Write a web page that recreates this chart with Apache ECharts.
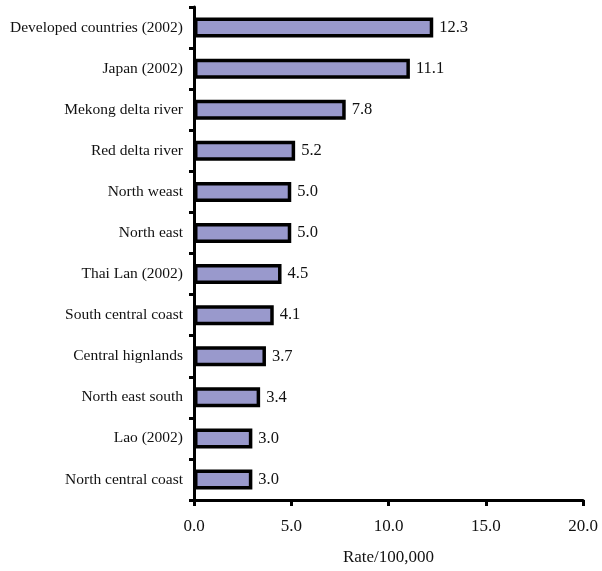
<!DOCTYPE html>
<html>
<head>
<meta charset="utf-8">
<script src="https://cdn.jsdelivr.net/npm/echarts@6/dist/echarts.min.js"></script>
<style>
  html, body { margin: 0; padding: 0; background: #fff; }
  #chart { width: 602px; height: 571px; }
</style>
</head>
<body>
<div id="chart"></div>
<script>
// Regions and reference groups, top to bottom
const regions = [
  'Developed countries (2002)',
  'Japan (2002)',
  'Mekong delta river',
  'Red delta river',
  'North weast',
  'North east',
  'Thai Lan (2002)',
  'South central coast',
  'Central hignlands',
  'North east south',
  'Lao (2002)',
  'North central coast'
];
// Rate per 100,000
const rates = [12.3, 11.1, 7.8, 5.2, 5.0, 5.0, 4.5, 4.1, 3.7, 3.4, 3.0, 3.0];

const axisMin = 0;
const axisMax = 20;
const axisStep = 5;

const font = '"Liberation Serif", "DejaVu Serif", serif';

const chart = echarts.init(document.getElementById('chart'));
chart.setOption({
  animation: false,
  backgroundColor: '#ffffff',
  grid: { left: 194, right: 19, top: 7, bottom: 71, containLabel: false },
  xAxis: {
    type: 'value',
    min: axisMin,
    max: axisMax,
    interval: axisStep,
    name: 'Rate/100,000',
    nameLocation: 'middle',
    nameGap: 49,
    nameTextStyle: { fontFamily: font, fontSize: 17, color: '#111' },
    axisLine: { show: true, lineStyle: { color: '#000', width: 3 } },
    axisTick: { show: true, length: 6, lineStyle: { color: '#000', width: 3 } },
    axisLabel: {
      fontFamily: font, fontSize: 17, color: '#111', margin: 18,
      formatter: v => v.toFixed(1)
    },
    splitLine: { show: false }
  },
  yAxis: {
    type: 'category',
    data: regions,
    inverse: true,
    axisLine: { show: true, lineStyle: { color: '#000', width: 3 } },
    axisTick: { show: true, length: 5, lineStyle: { color: '#000', width: 3 } },
    axisLabel: { fontFamily: font, fontSize: 15.5, color: '#111', margin: 11 }
  },
  series: [{
    type: 'bar',
    data: rates,
    barWidth: 20,
    itemStyle: { color: '#9999cc', borderColor: '#000', borderWidth: 3.5 },
    label: {
      show: true,
      position: 'right',
      distance: 6,
      fontFamily: font,
      fontSize: 16.5,
      color: '#111',
      formatter: p => p.value.toFixed(1)
    }
  }]
});
</script>
</body>
</html>
